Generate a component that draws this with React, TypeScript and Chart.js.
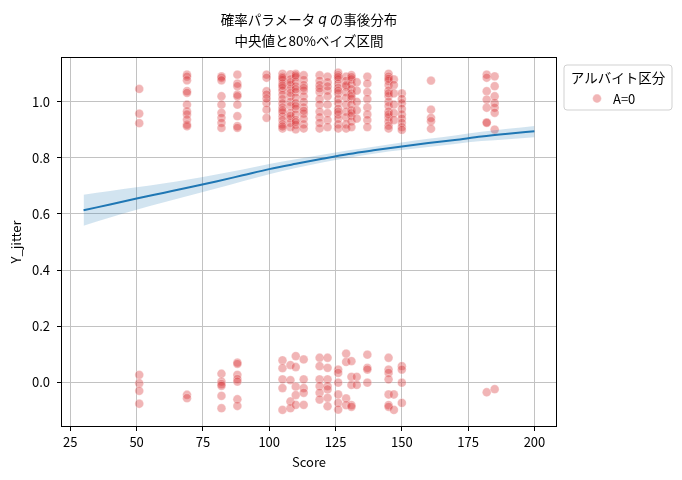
import React, { useEffect, useRef } from 'react';
import { Chart, registerables } from 'chart.js';

Chart.register(...registerables);

// ---- data ----
const xTicks = [25, 50, 75, 100, 125, 150, 175, 200];
const yTicks = [0, 0.2, 0.4, 0.6, 0.8, 1.0];

const curveScores = [30, 40, 50, 60, 70, 80, 90, 100, 110, 120, 130, 140, 150, 160, 170, 180, 190, 200];
const curveMedian = [0.613, 0.634, 0.655, 0.675, 0.695, 0.716, 0.738, 0.76, 0.779, 0.797, 0.814, 0.828, 0.841, 0.853, 0.864, 0.876, 0.886, 0.895];
const curveLower = [0.558, 0.587, 0.615, 0.641, 0.666, 0.691, 0.717, 0.742, 0.764, 0.784, 0.801, 0.816, 0.828, 0.839, 0.85, 0.86, 0.867, 0.874];
const curveUpper = [0.669, 0.682, 0.695, 0.709, 0.724, 0.741, 0.759, 0.778, 0.795, 0.811, 0.827, 0.841, 0.855, 0.868, 0.88, 0.893, 0.904, 0.914];

const columnScores = [51, 69, 82, 88, 99, 105, 108, 110, 113, 119, 122, 126, 129, 131, 133, 137, 145, 147, 150, 161, 182, 185];
const columnJitters: number[][] = [
  [1.046, 0.958, 0.924, 0.026, -0.004, -0.031, -0.077],
  [1.097, 1.09, 1.077, 1.038, 1.032, 0.99, 0.966, 0.955, 0.937, 0.919, 0.913, -0.045, -0.057],
  [1.091, 1.086, 1.077, 1.02, 0.99, 0.961, 0.943, 0.925, 0.907, 0.03, 0.002, -0.007, -0.013, -0.049, -0.093],
  [1.097, 1.065, 1.056, 1.026, 1.02, 0.99, 0.949, 0.913, 0.907, 0.07, 0.065, 0.026, 0.011, 0.002, -0.061, -0.085],
  [1.097, 1.086, 1.038, 1.026, 0.996, 0.972, 0.943, 1.012],
  [1.1, 1.09, 1.078, 1.065, 1.05, 1.04, 1.025, 1.01, 0.995, 0.98, 0.962, 0.948, 0.935, 0.92, 0.905, 1.085, 1.058, 0.97, 0.912, 0.078, 0.05, 0.01, -0.021, -0.099],
  [1.098, 1.08, 1.06, 1.045, 1.02, 1.0, 0.985, 0.96, 0.94, 0.925, 0.91, 1.07, 1.032, 0.95, 0.061, 0.007, -0.069, -0.093],
  [1.1, 1.088, 1.072, 1.055, 1.035, 1.015, 0.995, 0.975, 0.955, 0.935, 0.918, 0.902, 1.094, 1.045, 0.985, 0.928, 0.093, 0.054, -0.016, -0.046, -0.081],
  [1.095, 1.078, 1.06, 1.04, 1.02, 1.0, 0.98, 0.958, 0.94, 0.92, 0.905, 1.05, 0.968, 0.081, 0.01, -0.021, -0.038, -0.081],
  [1.095, 1.075, 1.06, 1.035, 1.01, 0.99, 0.965, 0.945, 0.925, 0.905, 1.048, 0.087, 0.057, 0.01, -0.014, -0.038, -0.062],
  [1.09, 1.07, 1.04, 1.02, 0.99, 0.96, 0.935, 0.91, 1.055, 0.087, 0.051, 0.01, -0.014, -0.026, -0.056, -0.086],
  [1.104, 1.095, 1.08, 1.065, 1.05, 1.03, 1.01, 0.995, 0.975, 0.955, 0.94, 0.92, 0.905, 1.088, 1.04, 0.965, 0.045, 0.033, -0.002, -0.044, -0.074, -0.098],
  [1.09, 1.075, 1.055, 1.035, 1.015, 0.99, 0.965, 0.945, 0.92, 0.905, 1.06, 0.102, 0.072, -0.058, -0.082],
  [1.095, 1.08, 1.062, 1.045, 1.03, 1.01, 0.99, 0.97, 0.95, 0.93, 0.91, 1.088, 1.02, 0.96, 0.075, 0.019, -0.01, -0.082, -0.088],
  [1.07, 1.04, 1.0, 0.97, 0.94, 0.019, -0.01],
  [1.09, 1.065, 1.035, 1.01, 0.98, 0.955, 0.935, 0.91, 0.098, 0.051, 0.045, -0.002],
  [1.1, 1.09, 1.075, 1.06, 1.04, 1.02, 1.0, 0.985, 0.965, 0.945, 0.93, 0.915, 0.905, 1.082, 1.03, 0.955, 0.087, 0.045, 0.033, 0.01, -0.044, -0.082, -0.088],
  [1.08, 1.06, 1.03, 0.99, 0.96, 0.935, -0.044, -0.099],
  [1.03, 1.01, 0.995, 0.975, 0.955, 0.94, 0.925, 0.91, 0.9, 0.057, 0.045, -0.002, -0.074],
  [1.076, 0.972, 0.943, 0.931, 0.904],
  [1.097, 1.086, 1.038, 1.008, 0.979, 0.927, 0.925, -0.036],
  [1.091, 1.056, 1.02, 0.996, 0.979, 0.961, 0.901, -0.025],
];

const titleLine1 = ['確率パラメータ ', 'q', ' の事後分布'];
const titleLine2 = '中央値と80%ベイズ区間';
const xLabel = 'Score';
const yLabel = 'Y_jitter';
const legendTitle = 'アルバイト区分';
const legendLabel = 'A=0';

const FONT = '"Noto Sans CJK JP", "Noto Sans", sans-serif';
const POINT_FILL = 'rgba(214,39,40,0.34)';
const POINT_EDGE = 'rgba(255,255,255,0.35)';

const decorPlugin = {
  id: 'decor',
  afterDraw(chart: any) {
    const ctx: CanvasRenderingContext2D = chart.ctx;
    const a = chart.chartArea;
    ctx.save();
    // frame
    ctx.strokeStyle = '#000';
    ctx.lineWidth = 1;
    ctx.strokeRect(Math.round(a.left) + 0.5, Math.round(a.top) + 0.5, Math.round(a.right - a.left) - 1, Math.round(a.bottom - a.top) - 1);

    const cx = (a.left + a.right) / 2;
    ctx.fillStyle = '#000';
    ctx.textBaseline = 'middle';

    // title line 1 with italic q
    const fonts = [`13.5px ${FONT}`, `italic 13.5px "DejaVu Sans"`, `13.5px ${FONT}`];
    let total = 0;
    const widths = titleLine1.map((s, i) => {
      ctx.font = fonts[i];
      const w = ctx.measureText(s).width;
      total += w;
      return w;
    });
    let x = cx - total / 2;
    ctx.textAlign = 'left';
    titleLine1.forEach((s, i) => {
      ctx.font = fonts[i];
      ctx.fillText(s, x, 20);
      x += widths[i];
    });
    ctx.font = `13.5px ${FONT}`;
    ctx.textAlign = 'center';
    ctx.fillText(titleLine2, cx, 41);

    // axis labels
    ctx.font = `13px ${FONT}`;
    ctx.fillText(xLabel, cx, 462);
    ctx.save();
    ctx.translate(16, (a.top + a.bottom) / 2);
    ctx.rotate(-Math.PI / 2);
    ctx.fillText(yLabel, 0, 0);
    ctx.restore();

    // legend
    const lx = 564, ly = 65, lw = 108, lh = 45, r = 3;
    ctx.beginPath();
    ctx.moveTo(lx + r, ly);
    ctx.arcTo(lx + lw, ly, lx + lw, ly + lh, r);
    ctx.arcTo(lx + lw, ly + lh, lx, ly + lh, r);
    ctx.arcTo(lx, ly + lh, lx, ly, r);
    ctx.arcTo(lx, ly, lx + lw, ly, r);
    ctx.closePath();
    ctx.fillStyle = 'rgba(255,255,255,0.8)';
    ctx.fill();
    ctx.strokeStyle = 'rgba(204,204,204,0.9)';
    ctx.lineWidth = 1;
    ctx.stroke();

    ctx.fillStyle = '#000';
    ctx.font = `13.5px ${FONT}`;
    ctx.textAlign = 'center';
    ctx.fillText(legendTitle, lx + lw / 2, 78);

    ctx.beginPath();
    ctx.arc(597, 98.5, 4.4, 0, Math.PI * 2);
    ctx.fillStyle = POINT_FILL;
    ctx.fill();
    ctx.strokeStyle = POINT_EDGE;
    ctx.stroke();

    ctx.fillStyle = '#000';
    ctx.font = `13px ${FONT}`;
    ctx.textAlign = 'left';
    ctx.fillText(legendLabel, 613, 99);
    ctx.restore();
  },
};

export default function App() {
  const canvasRef = useRef<HTMLCanvasElement | null>(null);

  useEffect(() => {
    const canvas = canvasRef.current;
    if (!canvas) return;

    const scatterPoints: { x: number; y: number }[] = [];
    columnScores.forEach((s, i) => {
      columnJitters[i].forEach((y) => scatterPoints.push({ x: s, y }));
    });
    const toPts = (ys: number[]) => curveScores.map((x, i) => ({ x, y: ys[i] }));

    const gridColor = '#c2c2c2';
    const tickFont = { family: FONT, size: 13 };

    const chart = new Chart(canvas, {
      type: 'scatter',
      data: {
        datasets: [
          {
            label: 'median',
            data: toPts(curveMedian),
            showLine: true,
            borderColor: '#1f77b4',
            borderWidth: 2,
            pointRadius: 0,
            cubicInterpolationMode: 'monotone',
          } as any,
          {
            label: 'upper',
            data: toPts(curveUpper),
            showLine: true,
            borderColor: 'rgba(0,0,0,0)',
            borderWidth: 0,
            pointRadius: 0,
            cubicInterpolationMode: 'monotone',
          } as any,
          {
            label: 'lower',
            data: toPts(curveLower),
            showLine: true,
            borderColor: 'rgba(0,0,0,0)',
            borderWidth: 0,
            pointRadius: 0,
            cubicInterpolationMode: 'monotone',
            fill: '-1',
            backgroundColor: 'rgba(31,119,180,0.2)',
          } as any,
          {
            label: legendLabel,
            data: scatterPoints,
            pointRadius: 4.4,
            backgroundColor: POINT_FILL,
            borderColor: POINT_EDGE,
            borderWidth: 0.8,
          },
        ],
      },
      options: {
        animation: false,
        responsive: false,
        events: [],
        layout: { padding: { top: 57, right: 125, left: 0, bottom: 0 } },
        plugins: {
          legend: { display: false },
          tooltip: { enabled: false },
          title: { display: false },
        },
        scales: {
          x: {
            type: 'linear',
            min: 21.5,
            max: 208.5,
            afterBuildTicks: (axis: any) => {
              axis.ticks = xTicks.map((v) => ({ value: v }));
            },
            afterFit: (axis: any) => {
              axis.height = 53;
            },
            ticks: {
              font: tickFont,
              color: '#000',
              padding: 3,
              maxRotation: 0,
              autoSkip: false,
              callback: (v: any) => String(v),
            },
            grid: { color: gridColor, lineWidth: 1, tickLength: 4, tickColor: '#000', tickWidth: 1 },
            border: { display: false },
            title: { display: false },
          },
          y: {
            type: 'linear',
            min: -0.16,
            max: 1.16,
            afterBuildTicks: (axis: any) => {
              axis.ticks = yTicks.map((v) => ({ value: v }));
            },
            afterFit: (axis: any) => {
              axis.width = 61;
            },
            ticks: {
              font: tickFont,
              color: '#000',
              padding: 7,
              autoSkip: false,
              callback: (v: any) => Number(v).toFixed(1),
            },
            grid: { color: gridColor, lineWidth: 1, tickLength: 4, tickColor: '#000', tickWidth: 1 },
            border: { display: false },
            title: { display: false },
          },
        },
      } as any,
      plugins: [decorPlugin],
    });

    return () => {
      chart.destroy();
    };
  }, []);

  return (
    <div style={{ position: 'absolute', left: 0, top: 0, width: 682, height: 480, background: '#fff' }}>
      <canvas ref={canvasRef} width={682} height={480} style={{ width: 682, height: 480, display: 'block' }} />
    </div>
  );
}
